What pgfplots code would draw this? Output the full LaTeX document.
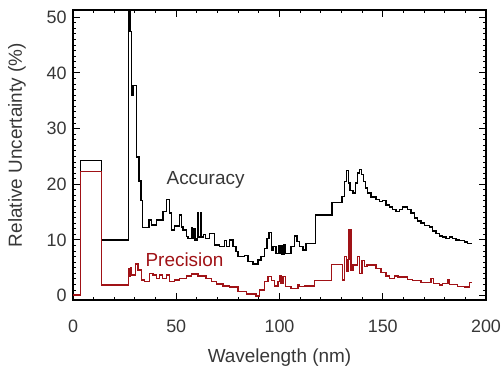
\documentclass[border=0pt]{standalone}
\usepackage{pgfplots}
\pgfplotsset{compat=1.18}
\usepackage{fontspec}
\setmainfont{Liberation Sans}
\definecolor{precred}{RGB}{160,18,22}
\definecolor{txtgray}{RGB}{55,55,55}
\begin{document}
\begin{tikzpicture}
\begin{axis}[
  scale only axis, width=413bp, height=290bp,
  xmin=0, xmax=200, ymin=-0.8, ymax=51.3,
  xtick={0,50,...,200}, ytick={0,10,...,50},
  minor x tick num=4, minor y tick num=9,
  tick align=inside, tick pos=both,
  major tick length=7bp, minor tick length=3.5bp,
  every tick/.style={black, line width=0.9bp},
  axis line style={line width=1.1bp},
  /pgf/number format/assume math mode=true,
  tick label style={font=\fontsize{18}{20}\selectfont, text=txtgray},
  xticklabel style={yshift=-16bp},
  yticklabel style={xshift=-3bp},
  xlabel={Wavelength (nm)}, ylabel={Relative Uncertainty (\%)},
  label style={font=\fontsize{19}{22}\selectfont, text=txtgray},
  xlabel style={at={(axis description cs:0.5,0)}, anchor=base, yshift=-62bp},
  ylabel style={at={(axis description cs:0,0.534)}, anchor=base, yshift=51bp},
]
\addplot[const plot, black, line width=1.4bp] coordinates {
(0,0) (3.6,24.3) (13.7,10.0) (26.9,70) (27.6,47.4) (28.3,36.0) (29.0,37.7)
(30.8,24.9) (31.9,20.6) (32.9,17.1) (33.8,12.2) (36.8,13.6) (37.9,12.7)
(40.3,13.6) (43.6,15.1) (45.2,17.3) (46.8,14.8) (47.6,11.8) (49.2,12.5)
(51.6,14.5) (52.4,12.3) (53.2,11.8) (54.9,10.6) (55.7,10.3) (57.3,12.1)
(58.0,10.2) (58.5,12.0) (59.0,10.0) (60.0,10.3) (60.4,14.8) (60.8,10.5)
(61.8,14.8) (62.2,10.5) (63.2,11.0) (64.2,10.3) (66.1,11.2) (68.6,9.1)
(71.0,8.8) (73.4,9.9) (74.2,8.8) (75.8,10.0) (77.4,8.8) (79.0,7.9)
(79.9,7.0) (83.1,7.2) (84.7,6.1) (87.1,5.7) (89.5,6.4) (91.1,7.0)
(92.8,8.5) (93.9,10.3) (94.9,11.3) (96.0,8.2) (96.8,8.8) (98.4,7.6)
(99.4,9.0) (99.8,7.6) (100.8,9.0) (101.2,7.5) (102.2,9.2) (102.6,7.6)
(105.6,8.8) (107.3,10.7) (108.4,9.7) (109.7,8.8) (111.3,8.2)
(112.9,9.3) (117.3,14.5) (125.5,16.7) (130.3,17.8) (131.5,20.5) (132.3,22.5)
(133.4,20.2) (134.2,18.9) (135.5,18.4) (136.8,20.2) (137.9,22.0) (138.7,22.6)
(139.8,21.7) (140.6,20.5) (141.6,19.3) (142.7,18.4) (144.4,17.7) (146.8,17.3)
(148.4,16.9) (150.0,17.1) (151.6,16.3) (153.2,15.9) (154.8,15.5) (156.5,15.1)
(158.1,15.5) (159.7,15.9) (162.1,15.5) (163.7,14.8) (165.3,13.9) (166.9,13.4)
(168.5,13.0) (170.2,12.6) (172.6,12.3) (174.2,11.6) (175.8,11.1) (177.4,10.7)
(179.0,10.5) (180.6,10.2) (182.3,10.5) (183.9,10.3) (185.5,10.0) (187.1,9.9)
(189.5,9.6) (191.1,9.3) (193.2,9.3)
};
\addplot[const plot, precred, line width=1.4bp] coordinates {
(0,0.1) (3.6,22.3) (13.7,1.9) (26.9,4.9) (27.3,3.4) (27.7,5.0) (28.2,3.7)
(30.3,5.7) (31.5,4.6) (33.1,2.8) (34.7,2.5) (37.1,4.0) (38.7,3.7) (40.3,3.1)
(42.0,3.7) (43.2,3.1) (45.2,3.7) (46.8,2.5) (49.2,2.8) (51.6,3.1) (54.9,3.5)
(57.3,3.9) (60.5,3.5) (64.5,3.1) (67.0,2.5) (69.4,2.1) (72.6,1.7) (75.8,1.5)
(79.9,0.7) (83.9,0.3) (88.7,-0.1) (90.3,1.0) (92.8,2.5) (94.4,3.4) (96.0,2.7)
(97.6,1.7) (99.2,2.5) (100.0,3.6) (100.8,2.2) (101.6,3.4) (103.0,1.6)
(105.6,1.3) (108.9,1.9) (109.7,1.6) (112.1,1.7) (117.0,2.7) (125.2,5.6)
(130.6,2.8) (131.5,7.0) (132.3,4.3) (133.1,6.5) (133.6,11.8) (134.7,4.6)
(135.5,5.5) (137.9,7.0) (138.7,4.0) (140.0,6.3) (141.1,5.2) (142.3,5.5)
(146.8,4.9) (149.2,4.1) (151.6,3.5) (153.2,3.1) (155.6,3.5) (157.3,3.3)
(162.1,2.9) (164.5,2.7) (168.5,2.3) (173.4,3.1) (174.5,2.2) (177.4,1.9)
(179.0,2.2) (181.5,2.9) (182.3,2.0) (186.3,1.6) (189.5,1.5) (192.0,2.3)
(193.2,2.3)
};
\node[font=\fontsize{19}{22}\selectfont, text=txtgray, anchor=base] at (axis cs:64.2,19.9) {Accuracy};
\node[font=\fontsize{19}{22}\selectfont, text=precred, anchor=base] at (axis cs:54.0,5.3) {Precision};
\end{axis}
\pgfresetboundingbox
\useasboundingbox ([shift={(-73bp,-69bp)}]current axis.south west) rectangle ([shift={(16bp,10bp)}]current axis.north east);
\end{tikzpicture}
\end{document}
